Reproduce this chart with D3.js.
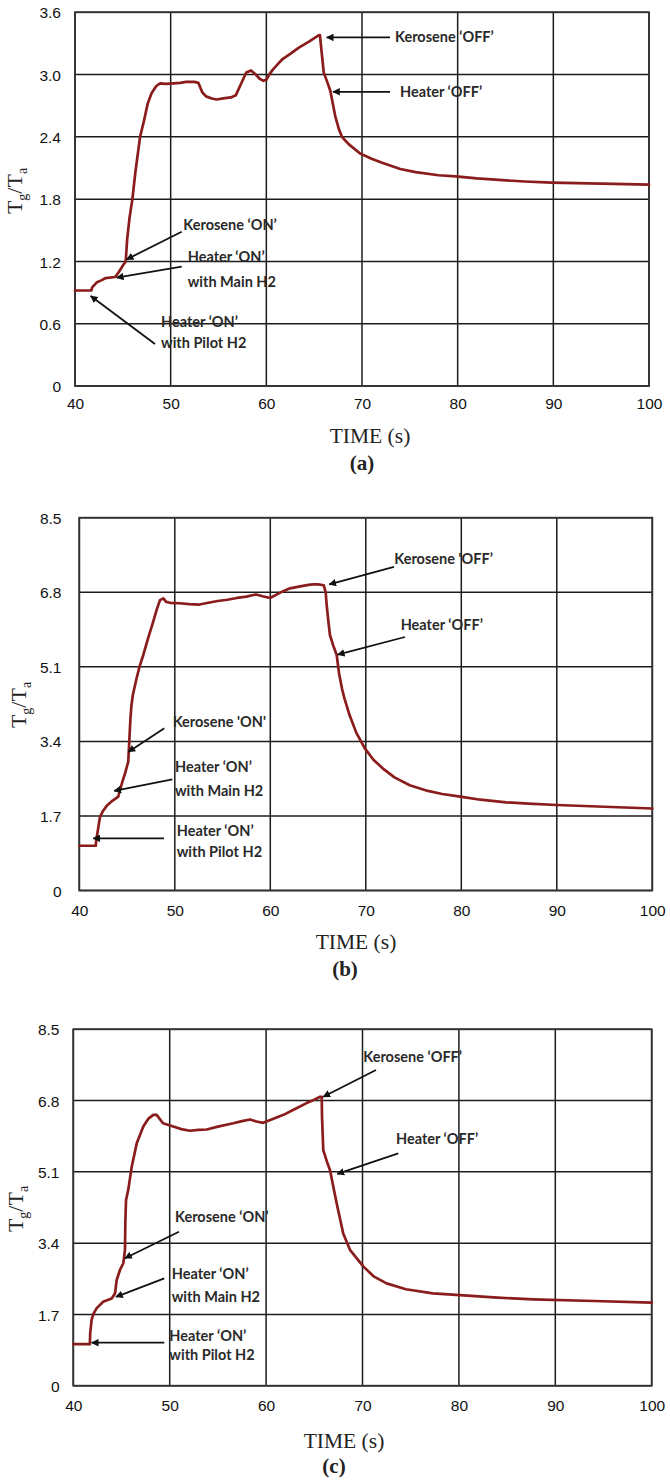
<!DOCTYPE html>
<html>
<head>
<meta charset="utf-8">
<script src="https://cdn.jsdelivr.net/npm/d3@7"></script>
<style>
  html, body { margin: 0; padding: 0; background: #fff; }
  svg { display: block; }
  .tick-lbl { font-family: "Liberation Sans", Arial, sans-serif; font-size: 15.5px; fill: #111; }
  .ttl { font-family: "Liberation Serif", "Times New Roman", serif; fill: #222; }
  .ann { font-family: Lato, "Open Sans", sans-serif; font-weight: 700; font-size: 14.5px; fill: #2a2a2a; }
</style>
</head>
<body>
<svg id="chart" width="670" height="1481"></svg>
<script>
// ---------------- DATA ----------------
const timeTicks = [40, 50, 60, 70, 80, 90, 100];
const timeTickLabels = ["40", "50", "60", "70", "80", "90", "100"];

const yTicksA = [0, 0.6, 1.2, 1.8, 2.4, 3.0, 3.6];
const yTickLabelsA = ["0", "0.6", "1.2", "1.8", "2.4", "3.0", "3.6"];
const yTicksBC = [0, 1.7, 3.4, 5.1, 6.8, 8.5];
const yTickLabelsBC = ["0", "1.7", "3.4", "5.1", "6.8", "8.5"];

const panelLabels = ["(a)", "(b)", "(c)"];
const xTitle = "TIME (s)";

// [time (s), Tg/Ta]
const seriesA = [
  [40,0.92],[41.7,0.92],[41.8,0.95],[42.3,1.0],[42.8,1.02],[43.2,1.04],[44.2,1.05],[44.6,1.10],
  [45.0,1.16],[45.3,1.20],[45.45,1.41],[45.7,1.62],[46.0,1.80],[46.3,2.05],[46.8,2.40],[47.2,2.55],
  [47.6,2.72],[48.0,2.82],[48.5,2.89],[48.9,2.915],[49.5,2.91],[50.3,2.915],[51.0,2.92],[51.6,2.93],
  [52.5,2.93],[52.9,2.92],[53.3,2.83],[53.7,2.79],[54.3,2.77],[54.8,2.76],[55.5,2.77],[56.3,2.78],
  [56.8,2.80],[57.3,2.90],[57.9,3.02],[58.4,3.04],[58.9,3.00],[59.3,2.96],[59.7,2.94],[60.0,2.95],
  [60.3,3.00],[60.7,3.05],[61.2,3.10],[61.7,3.15],[62.5,3.20],[63.4,3.26],[64.5,3.32],[65.5,3.38],
  [65.6,3.38],[65.8,3.20],[66.0,3.02],[66.4,2.92],[66.7,2.84],[67.2,2.60],[67.6,2.47],[67.9,2.40],
  [68.6,2.33],[69.8,2.24],[71.0,2.19],[72.1,2.15],[74.0,2.09],[75.6,2.06],[78.0,2.03],[79.8,2.02],
  [82.0,2.00],[84.3,1.985],[87.0,1.97],[89.8,1.96],[95.0,1.95],[100,1.94]
];
const seriesB = [
  [40,1.02],[41.72,1.02],[41.78,1.15],[42.0,1.45],[42.17,1.68],[42.5,1.82],[42.87,1.93],[43.5,2.05],
  [44.08,2.14],[44.26,2.29],[44.5,2.47],[44.79,2.67],[45.13,2.94],[45.24,3.43],[45.35,3.9],[45.45,4.2],
  [45.6,4.45],[46.0,4.84],[46.3,5.10],[46.7,5.37],[47.2,5.75],[47.74,6.13],[48.1,6.40],[48.45,6.62],
  [48.8,6.66],[49.1,6.58],[49.5,6.56],[50.5,6.55],[51.5,6.53],[52.6,6.52],[53.5,6.56],[54.5,6.60],
  [55.5,6.63],[56.5,6.67],[57.5,6.70],[58.5,6.75],[59.2,6.71],[59.97,6.67],[60.6,6.74],[61.3,6.82],
  [62.06,6.89],[63.0,6.93],[64.0,6.97],[64.5,6.98],[65.0,6.98],[65.6,6.96],[65.8,6.80],[65.9,6.51],
  [66.1,6.10],[66.25,5.82],[66.6,5.58],[66.95,5.37],[67.2,4.95],[67.5,4.61],[67.8,4.35],[68.3,4.00],
  [69.0,3.60],[69.9,3.24],[70.8,2.98],[71.8,2.78],[73.0,2.58],[74.6,2.40],[76.5,2.27],[78.0,2.20],
  [79.9,2.14],[82.0,2.07],[84.7,2.01],[87.0,1.98],[90.0,1.95],[95.0,1.91],[100,1.87]
];
const seriesC = [
  [40,0.99],[41.72,0.99],[41.75,1.25],[41.9,1.57],[42.1,1.72],[42.43,1.85],[43.1,2.0],[43.98,2.08],
  [44.33,2.2],[44.5,2.52],[44.84,2.76],[45.19,2.92],[45.36,3.24],[45.4,3.9],[45.47,4.43],[45.7,4.67],
  [46.06,5.22],[46.58,5.78],[47.26,6.18],[47.8,6.37],[48.3,6.46],[48.65,6.46],[49.3,6.26],[50.37,6.18],
  [51.2,6.12],[52.1,6.08],[53.0,6.10],[53.84,6.11],[55.0,6.18],[56.6,6.26],[57.5,6.31],[58.33,6.35],
  [59.0,6.30],[59.7,6.27],[60.7,6.36],[61.8,6.46],[63.0,6.60],[64.2,6.74],[65.0,6.82],[65.6,6.89],
  [65.77,6.89],[65.8,6.42],[65.93,5.62],[66.3,5.35],[66.63,5.14],[67.32,4.35],[68.0,3.63],[68.7,3.24],
  [70.1,2.84],[71.2,2.60],[72.5,2.44],[74.5,2.30],[77.3,2.20],[80.1,2.16],[84.0,2.10],[87.7,2.06],
  [94.0,2.02],[100,1.98]
];

// annotations: text lines, text anchor point [t, v] per line, arrow from [t,v] to [t,v]
const annotsA = [
  { lines: ["Kerosene \u2018OFF\u2019"], at: [[73.45, 3.36]], from: [72.93, 3.358], to: [66.31, 3.358] },
  { lines: ["Heater \u2018OFF\u2019"], at: [[73.97, 2.83]], from: [72.93, 2.834], to: [66.97, 2.834] },
  { lines: ["Kerosene \u2018ON\u2019"], at: [[51.32, 1.551]], from: [51.15, 1.486], to: [45.40, 1.22] },
  { lines: ["Heater \u2018ON\u2019", "with Main H2"], at: [[51.78, 1.24], [51.78, 1.005]], from: [51.15, 1.149], to: [44.36, 1.043] },
  { lines: ["Heater \u2018ON\u2019", "with Pilot H2"], at: [[48.99, 0.619], [48.99, 0.417]], from: [48.36, 0.405], to: [41.64, 0.867] }
];
const annotsB = [
  { lines: ["Kerosene 'OFF\u2019"], at: [[72.98, 7.555]], from: [72.95, 7.38], to: [66.18, 6.98] },
  { lines: ["Heater \u2018OFF\u2019"], at: [[73.65, 6.05]], from: [74.1, 5.78], to: [67.06, 5.38] },
  { lines: ["Kerosene 'ON'"], at: [[49.78, 3.847]], from: [48.9, 3.70], to: [45.13, 3.16] },
  { lines: ["Heater \u2018ON\u2019", "with Main H2"], at: [[50.02, 2.82], [50.02, 2.274]], from: [49.74, 2.534], to: [43.66, 2.274] },
  { lines: ["Heater \u2018ON\u2019", "with Pilot H2"], at: [[50.2, 1.356], [50.2, 0.884]], from: [48.87, 1.19], to: [41.47, 1.19] }
];
const annotsC = [
  { lines: ["Kerosene \u2018OFF\u2019"], at: [[70.08, 7.846]], from: [71.4, 7.53], to: [65.93, 6.89] },
  { lines: ["Heater \u2018OFF\u2019"], at: [[73.47, 5.876]], from: [73.71, 5.54], to: [67.39, 5.05] },
  { lines: ["Kerosene \u2018ON\u2019"], at: [[50.55, 4.03]], from: [50.96, 3.673], to: [45.36, 3.04] },
  { lines: ["Heater \u2018ON\u2019", "with Main H2"], at: [[50.21, 2.664], [50.21, 2.108]], from: [49.44, 2.561], to: [44.43, 2.12] },
  { lines: ["Heater \u2018ON\u2019", "with Pilot H2"], at: [[49.96, 1.185], [49.96, 0.732]], from: [49.44, 1.025], to: [41.91, 1.025] }
];

// ---------------- LAYOUT ----------------
const panels = [
  { series: seriesA, yTicks: yTicksA, yLabels: yTickLabelsA, annots: annotsA, label: panelLabels[0],
    left: 75, right: 649, top: 12.3, bottom: 386, yLblX: 61, yTitleX: 22, yTitleY: 191,
    xLblY: 403, titleCx: 370, titleY: 435, panelCx: 362, panelY: 465 },
  { series: seriesB, yTicks: yTicksBC, yLabels: yTickLabelsBC, annots: annotsB, label: panelLabels[1],
    left: 79.3, right: 652.3, top: 517.7, bottom: 890.5, yLblX: 61.5, yTitleX: 26, yTitleY: 705,
    xLblY: 910, titleCx: 356, titleY: 941, panelCx: 345, panelY: 971 },
  { series: seriesC, yTicks: yTicksBC, yLabels: yTickLabelsBC, annots: annotsC, label: panelLabels[2],
    left: 73.3, right: 651.7, top: 1029.3, bottom: 1385.7, yLblX: 59.5, yTitleX: 23, yTitleY: 1209,
    xLblY: 1405, titleCx: 344, titleY: 1440, panelCx: 334, panelY: 1468 }
];

const svg = d3.select("#chart");
const defs = svg.append("defs");
defs.append("marker")
  .attr("id", "arrowhead")
  .attr("viewBox", "0 0 10 10")
  .attr("refX", 9).attr("refY", 5)
  .attr("markerWidth", 4.2).attr("markerHeight", 4.2)
  .attr("markerUnits", "strokeWidth")
  .attr("orient", "auto")
  .append("path").attr("d", "M0,0 L10,5 L0,10 z").attr("fill", "#111");

const gridColor = "#1c1c1c";
const lineColor = "#8a1c1c";

panels.forEach(p => {
  const g = svg.append("g");
  const yMax = p.yTicks[p.yTicks.length - 1];
  const x = d3.scaleLinear().domain([timeTicks[0], timeTicks[timeTicks.length - 1]]).range([p.left, p.right]);
  const y = d3.scaleLinear().domain([0, yMax]).range([p.bottom, p.top]);

  // grid
  g.append("g").selectAll("line.vg").data(timeTicks).join("line")
    .attr("x1", d => x(d)).attr("x2", d => x(d))
    .attr("y1", y(0)).attr("y2", y(yMax))
    .attr("stroke", gridColor).attr("stroke-width", 1.5);
  g.append("g").selectAll("line.hg").data(p.yTicks).join("line")
    .attr("x1", x(timeTicks[0])).attr("x2", x(timeTicks[timeTicks.length - 1]))
    .attr("y1", d => y(d)).attr("y2", d => y(d))
    .attr("stroke", gridColor).attr("stroke-width", 1.5);
  g.append("rect")
    .attr("x", x(timeTicks[0])).attr("y", y(yMax))
    .attr("width", x(timeTicks[timeTicks.length - 1]) - x(timeTicks[0]))
    .attr("height", y(0) - y(yMax))
    .attr("fill", "none").attr("stroke", "#333").attr("stroke-width", 1.8);

  // axes labels through d3 axes
  const yAxis = d3.axisLeft(y).tickValues(p.yTicks)
    .tickFormat((d, i) => p.yLabels[i]).tickSize(0).tickPadding(0);
  const ya = g.append("g").attr("transform", `translate(${p.yLblX},0)`).call(yAxis);
  ya.select(".domain").remove();
  ya.selectAll("text").attr("class", "tick-lbl").attr("font-size", null).attr("font-family", null)
    .attr("dy", "0.36em").attr("x", 0);

  const xAxis = d3.axisBottom(x).tickValues(timeTicks)
    .tickFormat((d, i) => timeTickLabels[i]).tickSize(0).tickPadding(0);
  const xa = g.append("g").attr("transform", `translate(0,${p.xLblY})`).call(xAxis);
  xa.select(".domain").remove();
  xa.selectAll("text").attr("class", "tick-lbl").attr("font-size", null).attr("font-family", null)
    .attr("y", 0).attr("dy", "0.36em");

  // series line
  const line = d3.line().x(d => x(d[0])).y(d => y(d[1])).curve(d3.curveLinear);
  g.append("path").datum(p.series)
    .attr("d", line)
    .attr("fill", "none").attr("stroke", lineColor)
    .attr("stroke-width", 2.7).attr("stroke-linejoin", "round").attr("stroke-linecap", "round");

  // annotations
  p.annots.forEach(a => {
    g.append("line")
      .attr("x1", x(a.from[0])).attr("y1", y(a.from[1]))
      .attr("x2", x(a.to[0])).attr("y2", y(a.to[1]))
      .attr("stroke", "#111").attr("stroke-width", 1.8)
      .attr("marker-end", "url(#arrowhead)");
    a.lines.forEach((t, i) => {
      g.append("text").attr("class", "ann")
        .attr("x", x(a.at[i][0])).attr("y", y(a.at[i][1]))
        .attr("dy", "0.35em").text(t);
    });
  });

  // y-axis title  Tg/Ta
  const yt = g.append("text").attr("class", "ttl")
    .attr("transform", `translate(${p.yTitleX},${p.yTitleY}) rotate(-90)`)
    .attr("text-anchor", "middle").attr("font-size", 22);
  yt.append("tspan").text("T");
  yt.append("tspan").attr("font-size", 14).attr("dy", 5).text("g");
  yt.append("tspan").attr("dy", -5).text("/T");
  yt.append("tspan").attr("font-size", 14).attr("dy", 5).text("a");

  // x title
  g.append("text").attr("class", "ttl")
    .attr("x", p.titleCx).attr("y", p.titleY).attr("dy", "0.35em")
    .attr("text-anchor", "middle").attr("font-size", 21.5).text(xTitle);
  g.append("text").attr("class", "ttl")
    .attr("x", p.panelCx).attr("y", p.panelY).attr("dy", "0.24em")
    .attr("text-anchor", "middle").attr("font-size", 21).attr("font-weight", "bold")
    .attr("fill", "#111").text(p.label);
});
</script>
</body>
</html>
